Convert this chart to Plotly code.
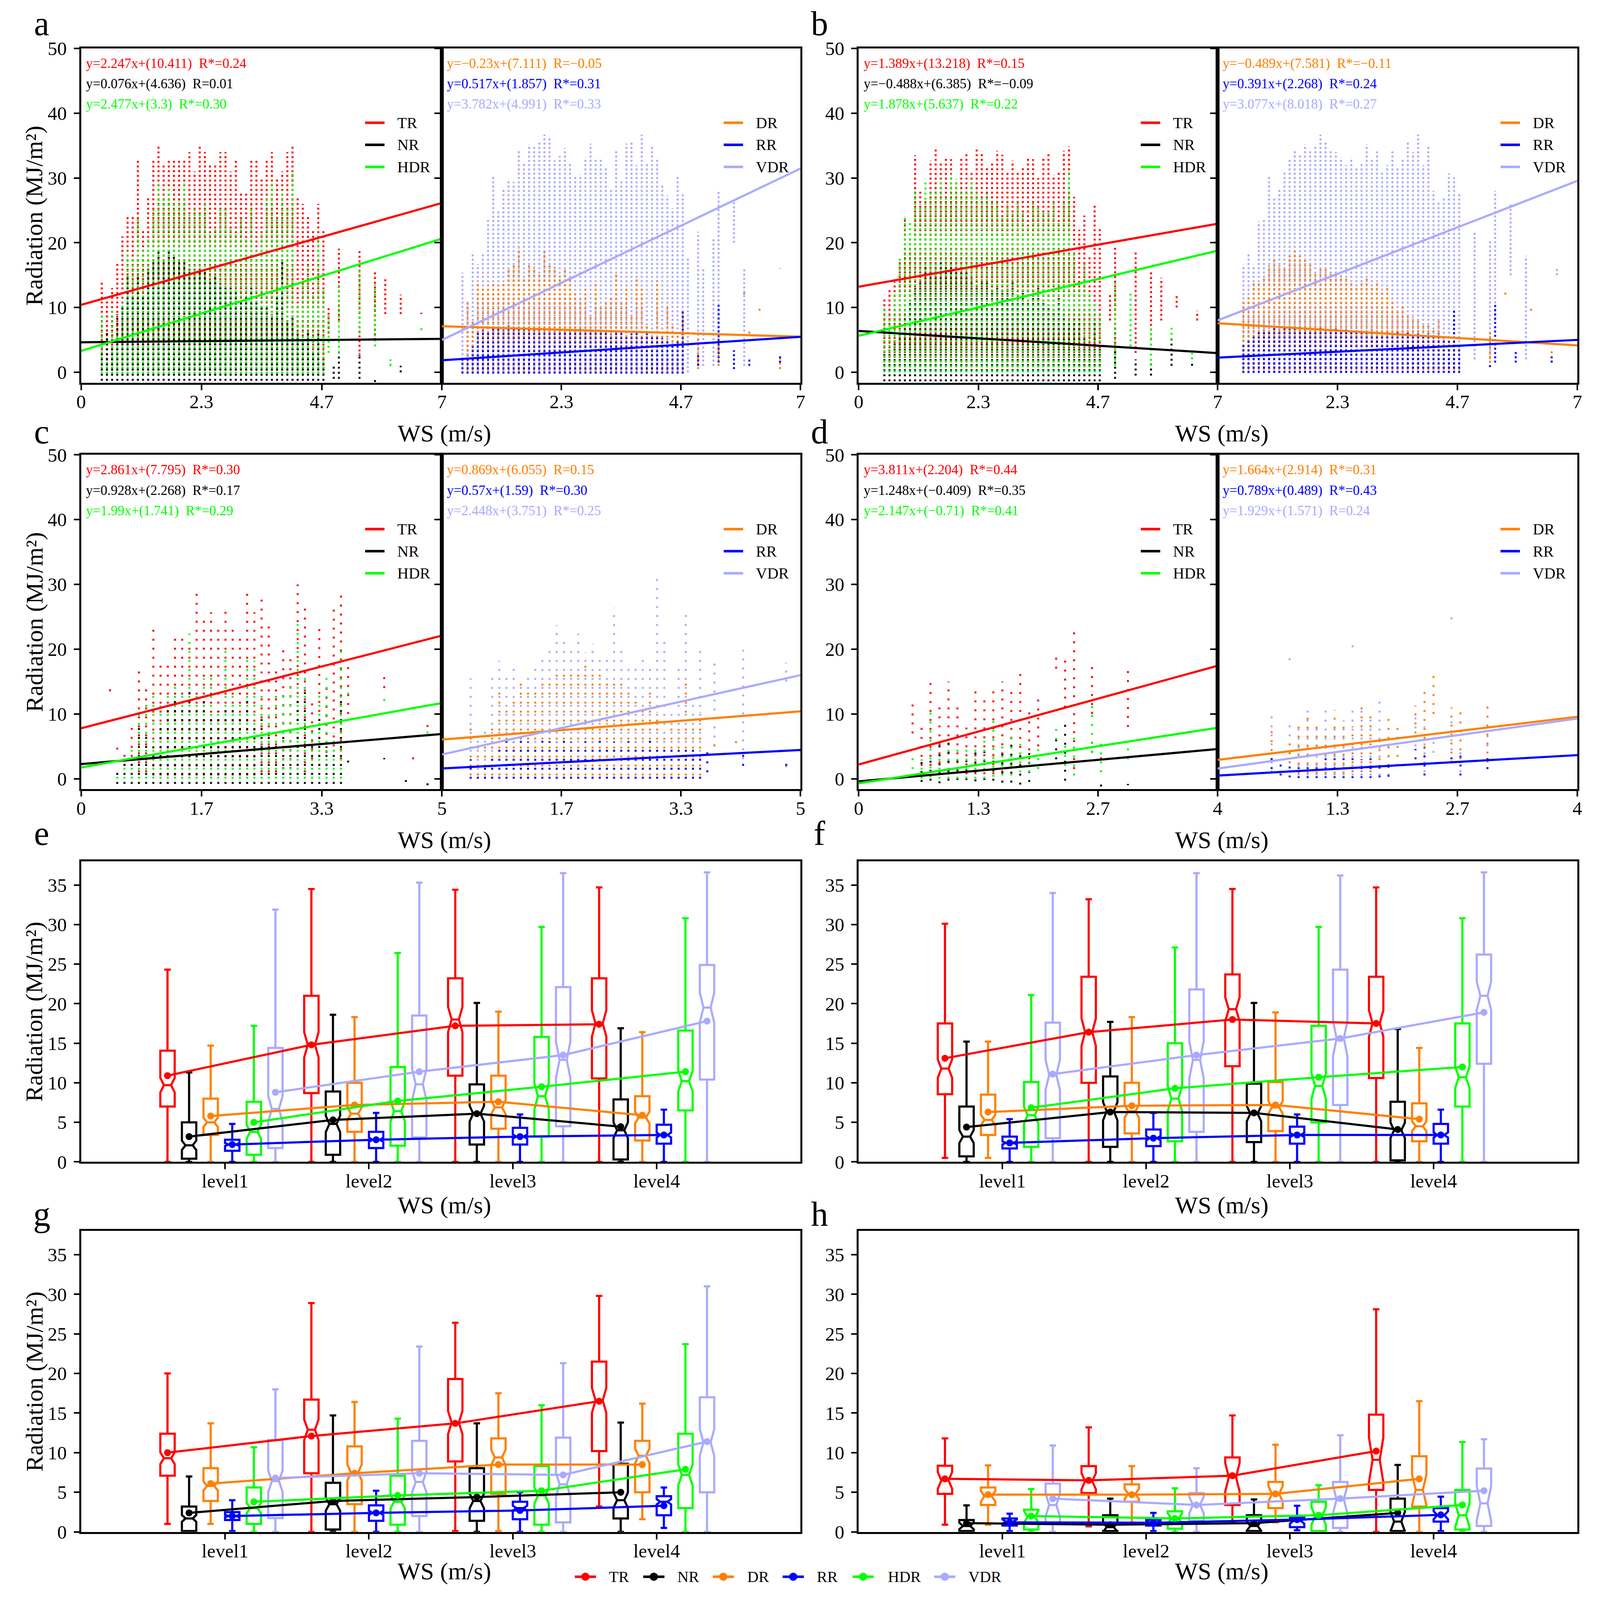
import plotly.graph_objects as go

FONT = "Liberation Serif, Times New Roman, serif"

# ---------------- scatter data (columns of points, WS step 0.1) ----------------
WS_A44 = [0.4, 0.5, 0.6, 0.7, 0.8, 0.9, 1.0, 1.1, 1.2, 1.3, 1.4, 1.5, 1.6, 1.7, 1.8,
          1.9, 2.0, 2.1, 2.2, 2.3, 2.4, 2.5, 2.6, 2.7, 2.8, 2.9, 3.0, 3.1, 3.2, 3.3,
          3.4, 3.5, 3.6, 3.7, 3.8, 3.9, 4.0, 4.1, 4.2, 4.3, 4.4, 4.5, 4.6, 4.7]
WS_A43 = WS_A44[1:]
WS_A45 = WS_A44 + [4.8]
WS_C33 = WS_A44[:33]
WS_C32 = WS_A44[1:33]

# panel a
A_TR = dict(x=WS_A44, lo=0.5,
            hi=[14, 11, 13, 17, 21, 24, 24, 33, 22, 27, 33, 35, 32, 33, 33, 33, 33, 34, 31, 35, 34, 32,
                32, 34, 34, 31, 33, 28, 28, 33, 33, 30, 33, 34, 30, 31, 34, 35, 27, 26, 24, 22, 26, 22],
            tx=[4.8, 5.0, 5.4, 5.7, 5.9, 6.2, 6.6], tlo=[6, 8, 2.5, 5, 9, 9, 9],
            thi=[10, 19.1, 18.8, 15.7, 14.4, 12.0, 9.2])
A_NR = dict(x=WS_A44, lo=-1.3,
            hi=[3, 6.6, 4, 9, 10, 14.7, 12, 15, 12, 16, 17, 18.8, 17, 19, 18, 17, 17, 16, 15, 16, 15.5, 14,
                15, 13.7, 13, 13, 12.5, 11, 12, 13, 11, 10, 10.3, 9, 12, 17, 8, 8.4, 6, 5, 6.4, 3, 6, 2],
            tx=[4.9, 5.0, 5.4, 5.7, 6.0, 6.2], tlo=[-1, -1, -1, -1.5, 1, 0], thi=[1, 3, 3, -1, 2, 1])
A_HDR = dict(x=WS_A44, lo=-0.2,
             hi=[8.8, 1.6, 9.6, 6.2, 10.9, 18.7, 17.6, 24, 18.8, 20.6, 25.1, 29.6, 27, 28.7, 26.5, 26.6,
                 29.2, 24.3, 25.5, 24.6, 26.5, 21.3, 22.1, 25.4, 25.1, 22.1, 21.3, 23.8, 20.9, 25.8, 18.8,
                 21.8, 26.8, 29.3, 24, 28.1, 25.3, 30.7, 10.6, 14, 16.5, 12, 21, 13],
             tx=[4.8, 5.0, 5.4, 5.7, 6.0, 6.6], tlo=[3, 3, 6, 4, 1, 6.5], thi=[9, 13.7, 15.7, 13.6, 2, 7.2])
A_DR = dict(x=WS_A43, lo=0.3,
            hi=[10.9, 8.2, 14, 13.2, 13.5, 13.9, 13.5, 13.7, 16, 16.8, 19.2, 14.8, 16.6, 16.3, 15.4, 19.1,
                16.5, 16.3, 14.9, 16.1, 14.6, 12.2, 11.3, 13.2, 8.9, 14, 10.1, 10.8, 11.7, 15.2, 11.1,
                13.4, 8.6, 14.8, 13.2, 7.5, 6, 14.2, 6, 10.3, 7.5, 6, 9.4],
            tx=[5.0, 5.4, 5.9, 6.0, 6.2, 6.6], tlo=[0.5, 1, 12, 6, 9.5, 0.5], thi=[5.4, 6, 12.5, 6.7, 9.9, 2.2])
A_VDR = dict(x=WS_A45, lo=0,
             hi=[15.4, 11, 18.6, 16.7, 18.4, 23.7, 30.4, 24.9, 28.4, 29.8, 29.4, 34.2, 32.5, 35.2, 34.8,
                 35.5, 36.7, 36.5, 32.7, 33.4, 34.6, 32.5, 30.4, 30.6, 33.2, 35.3, 33, 32.9, 31.7, 28.4,
                 34.2, 29.8, 35.3, 35.8, 32, 36.7, 32.5, 34.9, 33, 29, 27.3, 25.3, 30.3, 27.7, 17.7],
             tx=[5.0, 5.1, 5.3, 5.4, 5.7, 5.9, 6.6], tlo=[1, 1, 1, 1, 20, 1, 16],
             thi=[21.7, 16, 20.8, 28, 26.3, 16, 16.1])
A_RR = dict(x=WS_A44, lo=-0.2,
            hi=[2.0, 2.5, 4.0, 6.2, 6.6, 6.4, 6.8, 7.0, 6.6, 7.2, 6.9, 7.0, 6.8, 7.1, 6.7, 7.0, 6.9, 6.6,
                6.8, 6.4, 6.6, 6.5, 6.3, 6.7, 6.4, 6.6, 6.2, 6.1, 6.3, 5.9, 6.1, 6.2, 5.8, 6.0, 6.1, 5.7,
                6.0, 5.8, 5.5, 5.3, 5.2, 4.5, 5.0, 9.6],
            tx=[5.0, 5.4, 5.7, 6.0, 6.6], tlo=[1, 1.5, 0.5, 1, 1.5], thi=[3, 10.4, 3.4, 2, 2.5])

# panel b
B_TR = dict(x=WS_A43, lo=0.8,
            hi=[11.3, 12.8, 14, 17, 24, 21, 33.5, 28, 26.7, 32.7, 34.6, 32.3, 33.2, 32.9, 29.8, 33, 33.9,
                30.9, 34.6, 34, 31.8, 32.3, 34.2, 33.6, 31, 32.7, 30.9, 31.5, 33, 32.9, 30, 33.2, 34,
                30.5, 30.9, 34.2, 34.9, 27.1, 22, 24.2, 18, 26, 22.5],
            tx=[4.9, 5.0, 5.4, 5.7, 5.9, 6.2, 6.6], tlo=[8, 3, 3, 5, 8, 10, 8],
            thi=[12, 19.3, 18.9, 15.8, 14.6, 12, 9.5])
B_NR = dict(x=WS_A43, lo=-1.4,
            hi=[3.3, 3.5, 5, 6.4, 9, 11, 13, 14, 16.4, 15.5, 16, 17, 16.4, 16.8, 15.5, 16.4, 15.8, 14.5,
                13.5, 14.4, 13.8, 12.5, 13.1, 12.4, 12.9, 13.8, 12, 12.8, 11.2, 12.2, 13.3, 11, 10.5,
                9.6, 11.7, 9, 7.5, 8.2, 8.2, 5.5, 4, 7.7, 3.7],
            tx=[5.0, 5.4, 5.7, 6.1, 6.5], tlo=[-1, -0.5, -0.5, 1, 1], thi=[3.7, 2, 1.5, 5.5, 1.5])
B_HDR = dict(x=WS_A43, lo=0,
             hi=[9.7, 8.8, 12, 17.8, 24, 23.1, 28.3, 26, 29.8, 28.2, 28.3, 29.8, 27.4, 30.7, 29.8, 28.3,
                 28, 29.8, 28.3, 26.9, 27.6, 26.3, 26.2, 24, 26, 24.5, 26.2, 24.7, 22.4, 26.3, 25.8, 24.7,
                 24.9, 26.3, 23.4, 26.7, 30.9, 18.7, 14, 16.7, 12, 10.9, 9],
             tx=[5.0, 5.3, 5.7, 6.1, 6.5], tlo=[1, 4, 1, 5, 2], thi=[13.8, 12.2, 7.3, 7.3, 3])
B_DR = dict(x=WS_A43, lo=0.4,
            hi=[11, 12, 13.8, 14, 14.9, 16.5, 17.8, 16.5, 16, 18, 18.9, 18, 17.5, 16.8, 15.3, 16, 16.2,
                15.5, 15.3, 15, 14.9, 14, 13.5, 14.2, 14.6, 13.5, 13.8, 12.5, 13.3, 11, 9.5, 10.5, 9.1,
                8.5, 8, 7.5, 7.3, 6.5, 8, 5.5, 4.4, 5, 3.7],
            tx=[5.3, 5.6, 6.1, 6.5], tlo=[1.5, 12, 9.5, 1.5], thi=[6.2, 12.4, 10, 3.7])
B_VDR = dict(x=WS_A43, lo=0,
             hi=[16.6, 18.6, 16.6, 23.3, 23.6, 30.3, 27, 28.3, 31, 33, 34.3, 33.5, 35.2, 34.5, 35, 36.7,
                 35.6, 34.5, 34, 33.2, 32, 33.2, 31.5, 32.5, 35.2, 33, 34.1, 31, 32, 34.1, 31.5, 33, 35.8,
                 34, 36.7, 32, 34.9, 28, 26.2, 27, 30.7, 30.1, 27.6],
             tx=[5.0, 5.3, 5.4, 5.7, 6.0, 6.6], tlo=[2, 2, 8, 15, 2, 15], thi=[21.8, 20.5, 28, 26.2, 18, 16.2])
B_RR = dict(x=WS_A43, lo=-0.1,
            hi=[4.4, 5.0, 5.8, 6.2, 6.6, 6.4, 6.8, 6.6, 7.0, 6.7, 6.9, 6.6, 6.8, 6.5, 6.7, 6.9, 6.6, 6.4,
                6.7, 6.5, 6.6, 6.3, 6.5, 6.4, 6.2, 6.6, 6.3, 6.1, 6.4, 6.0, 6.2, 5.9, 6.1, 5.8, 6.0, 5.7,
                6.0, 5.6, 6.0, 5.3, 5.0, 9.7, 4.5],
            tx=[5.3, 5.4, 5.8, 6.5], tlo=[0.8, 1.5, 1.5, 1.5], thi=[1.3, 10.4, 3.3, 2.4])

# panel c
C_TR = dict(x=WS_C33,
            lo=[13.5, 4.5, 2, 2, 1, 1, 0.5, 0.5, 0.5, 0.5, 0.5, 0.5, 0.5, 0.5, 0.5, 0.5, 0.5, 0.5, 0.5,
                0.5, 0.5, 1, 1, 1, 1.5, 1.5, 2, 1, 3, 2, 4, 5, 3],
            hi=[14.1, 5, 4, 8, 17.3, 14.8, 23.7, 17.9, 18, 22.4, 22.4, 20.6, 29.1, 25.1, 25.7, 23.1, 26.6,
                24, 22.4, 29.1, 25.7, 28.2, 23.8, 17.3, 20.4, 18.8, 30, 26.7, 12, 23.3, 14, 26.6, 28.4],
            tx=[3.7, 4.2, 4.6, 4.8], tlo=[10, 14, 3, 8], thi=[18.4, 16.1, 4, 9.3])
C_NR = dict(x=WS_C32, lo=-0.8,
            hi=[1.7, 2.5, 3, 8.8, 7, 5, 8.8, 11.2, 13, 12, 14.4, 11.2, 13, 10.1, 10.4, 11.5, 11.2, 9.9,
                12.2, 8.4, 9.9, 7.4, 5.9, 7, 6, 12.6, 13.5, 6, 9.5, 5, 4, 13],
            tx=[3.7, 4.2, 4.5, 4.8], tlo=[2.5, 3, -0.5, -1], thi=[2.8, 3.2, -0.2, -0.7])
C_HDR = dict(x=WS_C32, lo=0,
             hi=[0.3, 2, 5.4, 11, 11.7, 12.8, 11.3, 13.5, 14.2, 13.2, 22.4, 13.2, 15.5, 15.9, 11, 19.7,
                 13, 12.1, 19.3, 18.2, 12.8, 9.9, 13, 13.5, 14.8, 24, 16, 8, 13.9, 16.4, 7, 20.8],
             tx=[3.7, 4.2, 4.8], tlo=[13, 12, 7], thi=[14.1, 12.4, 7.4])
C_DR = dict(x=WS_C33, lo=0.5,
            hi=[8.8, 5, 6, 8.4, 13.9, 11.2, 12.4, 15.1, 14.2, 14.2, 15.1, 15.1, 16.4, 16.8, 16.4, 16.6,
                17.9, 17, 16.2, 14.8, 15.5, 14.8, 14.2, 12.2, 10.6, 14.2, 10.3, 6.3, 8, 7.7, 15.3, 8, 10.3],
            tx=[3.8, 4.1, 4.8], tlo=[5, 5.5, 1.8], thi=[6.1, 6.1, 2.3])
C_VDR = dict(x=WS_C33, lo=0,
             hi=[15.5, 6, 8, 16.4, 18.2, 15.9, 17.3, 15, 16.4, 17.3, 18.4, 20.6, 23.7, 21.8, 20, 22.4,
                 19.5, 20.9, 19.3, 19.3, 26.4, 20.6, 17.3, 18, 18.4, 18, 31.3, 21.3, 10, 18, 25.7, 12, 20.6],
             tx=[3.8, 4.2, 4.8], tlo=[5, 3, 15], thi=[18.4, 19.9, 17.9])
C_RR = dict(x=WS_C33, lo=0,
            hi=[3, 1, 2.5, 4, 5.5, 5.8, 5.6, 5.9, 5.7, 5.5, 5.9, 5.8, 5.6, 5.9, 5.7, 5.5, 5.8, 5.6, 5.9,
                5.4, 5.7, 5.5, 5.8, 5.6, 5.5, 6.4, 5.4, 5.2, 5.4, 5.0, 4.5, 5.4, 3.5],
            tx=[3.7, 4.2, 4.8], tlo=[1, 2, 2], thi=[4.3, 3.7, 2.5])

# panel d
D_TR = dict(x=[0.6, 0.7, 0.8, 0.9, 1.0, 1.1, 1.2, 1.3, 1.4, 1.5, 1.6, 1.7, 1.8, 1.9, 2.0, 2.2, 2.3, 2.4, 2.6, 2.7, 3.0],
            lo=[7, 2, 2, 1, 1, 1, 0.7, 0.7, 0.7, 0.7, 1, 2, 2, 3, 5, 17, 11, 1.5, 10, 3, 8],
            hi=[11.5, 8.1, 15.7, 12.1, 15, 11.9, 7.9, 13.7, 12.6, 13.5, 15, 14.1, 17, 11.2, 13.3, 19.3,
                19.3, 23.3, 17.7, 4.3, 17],
            tx=[], tlo=[], thi=[])
D_NR = dict(x=[0.7, 0.8, 0.9, 1.0, 1.1, 1.2, 1.3, 1.4, 1.5, 1.6, 1.7, 1.8, 1.9, 2.2, 2.3, 2.6, 2.7, 3.0],
            lo=[-0.5, -0.3, -0.7, -0.3, -0.2, -0.2, -0.4, -0.2, -0.3, -0.6, -0.6, -0.9, -0.5, 3, -0.3, 4, -1.2, -1],
            hi=[2.6, 3, 5.5, 5.7, 3.9, 2.8, 5, 4.6, 3.9, 3.9, 5.5, 4.3, 4.3, 6.1, 8.8, 5.7, 0.1, -0.8],
            tx=[], tlo=[], thi=[])
D_HDR = dict(x=[0.6, 0.7, 0.8, 0.9, 1.0, 1.1, 1.2, 1.3, 1.4, 1.5, 1.6, 1.7, 1.8, 1.9, 2.0, 2.2, 2.3, 2.4, 2.6, 2.7, 3.0],
             lo=[1.5, 0, 0.2, 0, 0, 0, 0, 0, 0, 0.3, 0.5, 0.5, 1, 1, 1.5, 6, 2, 0.5, 4, 1, 3],
             hi=[3.6, 3, 10.4, 3.9, 5.5, 5.4, 5.2, 5, 6.8, 9.7, 6.1, 6.8, 5.4, 3.7, 5.4, 8.1, 5.4, 6.8,
                 11.5, 5.4, 5.7],
             tx=[], tlo=[], thi=[])
D_DR = dict(x=[0.6, 0.8, 0.9, 1.0, 1.1, 1.2, 1.3, 1.4, 1.5, 1.6, 1.7, 1.8, 1.9, 2.0, 2.2, 2.3, 2.4, 2.6, 2.7, 3.0],
            lo=[1.5, 1, 0.8, 0.8, 0.8, 0.8, 0.8, 0.8, 1, 1, 1, 1.5, 2, 2, 7, 2, 10, 2.5, 3, 2.5],
            hi=[8.1, 6.3, 8.3, 9.9, 8.6, 6.8, 10.6, 8.6, 8.1, 11.5, 9.9, 7, 9.9, 8.3, 11.3, 14.2, 16.8, 11,
                10.6, 11.7],
            tx=[], tlo=[], thi=[])
D_VDR = dict(x=[0.6, 0.8, 0.9, 1.0, 1.1, 1.2, 1.3, 1.4, 1.5, 1.6, 1.7, 1.8, 1.9, 2.2, 2.3, 2.4, 2.6, 2.7, 3.0],
             lo=[1, 1, 0.5, 0.5, 0.5, 0.5, 0.5, 0.5, 0.5, 0.5, 0.5, 0.5, 0.5, 5, 1, 4, 3, 1, 5],
             hi=[9.9, 9, 7.7, 11.2, 7.9, 11.3, 8.8, 9, 11, 11.2, 10.1, 11.9, 7.4, 10.1, 8.1, 6, 9, 5, 6.8],
             tx=[0.8, 1.5, 2.6], tlo=[18.3, 20.3, 24.6], thi=[18.6, 20.6, 24.9])
D_RR = dict(x=[0.6, 0.7, 0.8, 0.9, 1.0, 1.1, 1.2, 1.3, 1.4, 1.5, 1.6, 1.7, 1.8, 1.9, 2.2, 2.3, 2.6, 2.7, 3.0],
            lo=[1.5, 0.5, 0.2, 0.1, 0.1, 0.1, 0.1, 0.1, 0.1, 0.1, 0.1, 0.1, 0.2, 0.3, 3, 0.5, 3, 0.5, 1.5],
            hi=[3.4, 2.3, 2.1, 2.1, 2.4, 2.8, 3.4, 3.9, 3.2, 4.1, 3, 3.4, 2.4, 2.3, 4.6, 4.8, 4.3, 3.7, 3.9],
            tx=[], tlo=[], thi=[])

# regression equations shown in each sub-panel (order as listed in the panel)
FIT_A_L = dict(slope=[2.247, 0.076, 2.477], icpt=[10.411, 4.636, 3.3], r=[0.24, 0.01, 0.30], star=[1, 0, 1])
FIT_A_R = dict(slope=[-0.23, 0.517, 3.782], icpt=[7.111, 1.857, 4.991], r=[-0.05, 0.31, 0.33], star=[0, 1, 1])
FIT_B_L = dict(slope=[1.389, -0.488, 1.878], icpt=[13.218, 6.385, 5.637], r=[0.15, -0.09, 0.22], star=[1, 1, 1])
FIT_B_R = dict(slope=[-0.489, 0.391, 3.077], icpt=[7.581, 2.268, 8.018], r=[-0.11, 0.24, 0.27], star=[1, 1, 1])
FIT_C_L = dict(slope=[2.861, 0.928, 1.99], icpt=[7.795, 2.268, 1.741], r=[0.30, 0.17, 0.29], star=[1, 1, 1])
FIT_C_R = dict(slope=[0.869, 0.57, 2.448], icpt=[6.055, 1.59, 3.751], r=[0.15, 0.30, 0.25], star=[0, 1, 1])
FIT_D_L = dict(slope=[3.811, 1.248, 2.147], icpt=[2.204, -0.409, -0.71], r=[0.44, 0.35, 0.41], star=[1, 1, 1])
FIT_D_R = dict(slope=[1.664, 0.789, 1.929], icpt=[2.914, 0.489, 1.571], r=[0.31, 0.43, 0.24], star=[1, 1, 0])

TICKS_7 = ["0", "2.3", "4.7", "7"]
TICKS_5 = ["0", "1.7", "3.3", "5"]
TICKS_4 = ["0", "1.3", "2.7", "4"]

# ---------------- box plot data (level1..level4) ----------------
LEVELS = [1, 2, 3, 4]
LEVEL_LABELS = ["level1", "level2", "level3", "level4"]

E_LO = dict(TR=[0, 0, 0, 0], NR=[0, 0, 0, 0], DR=[0, 0, 0, 0], RR=[0, 0, 0, 0], HDR=[0, 0, 0, 0], VDR=[0, 0, 0, 0])
E_Q1 = dict(TR=[7.0, 8.7, 10.9, 10.55], NR=[0.4, 0.9, 2.2, 0.3], DR=[3.4, 3.8, 4.2, 2.7],
            RR=[1.4, 1.75, 2.2, 2.3], HDR=[0.9, 2.05, 3.2, 6.5], VDR=[1.75, 3.1, 4.5, 10.4])
E_MED = dict(TR=[9.7, 14.8, 18.0, 17.5], NR=[2.1, 4.8, 6.1, 4.0], DR=[5.0, 6.1, 6.9, 5.6],
             RR=[2.2, 2.8, 3.2, 3.4], HDR=[3.8, 6.4, 8.3, 10.2], VDR=[6.7, 9.8, 12.9, 19.5])
E_Q3 = dict(TR=[14.06, 21.0, 23.2, 23.2], NR=[5.0, 8.9, 9.8, 7.9], DR=[8.0, 10.0, 10.9, 8.3],
            RR=[2.8, 3.8, 4.3, 4.7], HDR=[7.6, 12.0, 15.8, 16.6], VDR=[14.4, 18.5, 22.1, 24.9])
E_HI = dict(TR=[24.3, 34.5, 34.4, 34.7], NR=[11.3, 18.6, 20.1, 16.9], DR=[14.7, 18.3, 19.0, 16.4],
            RR=[4.8, 6.2, 6.0, 6.6], HDR=[17.2, 26.4, 29.7, 30.8], VDR=[31.9, 35.3, 36.5, 36.6])
E_MEAN = dict(TR=[10.9, 14.8, 17.2, 17.4], NR=[3.2, 5.3, 6.1, 4.45], DR=[5.8, 7.2, 7.6, 5.9],
              RR=[2.2, 2.8, 3.2, 3.4], HDR=[5.0, 7.7, 9.5, 11.4], VDR=[8.8, 11.4, 13.5, 17.8])

F_LO = dict(TR=[0.5, 0, 0, 0], NR=[0, 0, 0, 0], DR=[0.5, 0, 0, 0], RR=[0, 0, 0, 0], HDR=[0, 0, 0, 0], VDR=[0, 0, 0, 0])
F_Q1 = dict(TR=[8.55, 10.0, 12.1, 10.6], NR=[0.7, 1.9, 2.5, 0.2], DR=[3.4, 3.6, 3.9, 2.6],
            RR=[1.7, 2.0, 2.3, 2.3], HDR=[1.9, 2.6, 5.0, 7.0], VDR=[3.0, 3.8, 7.2, 12.4])
F_MED = dict(TR=[11.8, 16.4, 19.3, 17.5], NR=[3.2, 6.4, 6.1, 4.0], DR=[5.3, 6.4, 6.9, 4.5],
             RR=[2.4, 3.0, 3.4, 3.4], HDR=[5.9, 8.0, 9.6, 10.7], VDR=[11.0, 12.9, 15.6, 21.0])
F_Q3 = dict(TR=[17.5, 23.4, 23.7, 23.4], NR=[7.0, 10.8, 9.9, 7.6], DR=[8.5, 10.0, 10.1, 7.4],
            RR=[3.2, 4.1, 4.45, 4.8], HDR=[10.1, 15.0, 17.2, 17.5], VDR=[17.6, 21.8, 24.3, 26.2])
F_HI = dict(TR=[30.1, 33.2, 34.5, 34.7], NR=[15.2, 17.7, 20.1, 16.8], DR=[15.2, 18.3, 18.9, 14.4],
            RR=[5.4, 6.2, 6.0, 6.6], HDR=[21.1, 27.1, 29.7, 30.8], VDR=[34.0, 36.5, 36.2, 36.6])
F_MEAN = dict(TR=[13.1, 16.4, 18.0, 17.5], NR=[4.4, 6.3, 6.2, 4.1], DR=[6.3, 7.1, 7.2, 5.4],
              RR=[2.4, 3.0, 3.4, 3.4], HDR=[6.85, 9.3, 10.7, 12.0], VDR=[11.1, 13.5, 15.6, 18.9])

G_LO = dict(TR=[1.0, 0, 0.1, 3.2], NR=[0, 0, 0, 0], DR=[1.0, 0, 0.1, 1.6], RR=[0.1, 0, 0, 0.5], HDR=[0, 0, 0, 0], VDR=[0, 0, 0, 0])
G_Q1 = dict(TR=[7.1, 7.4, 8.9, 10.2], NR=[0.1, 0.3, 1.4, 1.7], DR=[3.9, 3.5, 4.8, 5.0],
            RR=[1.5, 1.4, 1.6, 2.1], HDR=[1.0, 0.9, 0.9, 3.0], VDR=[1.75, 2.0, 1.2, 5.0])
G_MED = dict(TR=[9.3, 12.9, 13.8, 16.6], NR=[1.7, 3.5, 3.9, 4.0], DR=[5.8, 7.5, 9.4, 9.6],
             RR=[2.0, 2.4, 3.0, 3.8], HDR=[3.0, 3.8, 4.6, 7.2], VDR=[6.4, 6.3, 6.0, 11.3])
G_Q3 = dict(TR=[12.4, 16.7, 19.3, 21.5], NR=[3.2, 6.2, 8.05, 8.6], DR=[8.05, 10.8, 11.8, 11.5],
            RR=[2.5, 3.35, 3.8, 4.5], HDR=[5.6, 7.1, 8.3, 12.4], VDR=[11.6, 11.5, 11.9, 17.0])
G_HI = dict(TR=[20.0, 28.9, 26.4, 29.8], NR=[7.0, 14.7, 13.7, 13.8], DR=[13.7, 16.4, 17.5, 16.2],
            RR=[4.0, 5.2, 5.0, 5.6], HDR=[10.7, 14.3, 16.0, 23.7], VDR=[18.0, 23.4, 21.3, 31.0])
G_MEAN = dict(TR=[10.0, 12.1, 13.7, 16.5], NR=[2.4, 3.9, 4.4, 5.0], DR=[6.1, 7.4, 8.5, 8.5],
              RR=[2.0, 2.4, 2.7, 3.3], HDR=[3.8, 4.6, 5.2, 7.9], VDR=[6.8, 7.4, 7.2, 11.4])

H_LO = dict(TR=[0.9, 0.7, 1.15, 0], NR=[0, 0, 0, 0], DR=[0.9, 1.15, 1.2, 0], RR=[0.1, 0.1, 0.2, 0.1], HDR=[0, 0, 0, 0], VDR=[0, 0, 0, 0])
H_Q1 = dict(TR=[4.8, 4.9, 3.4, 5.3], NR=[0.1, 0.1, 0.1, 0.1], DR=[3.4, 3.8, 3.0, 3.2],
            RR=[0.8, 0.8, 0.6, 1.3], HDR=[0.3, 0.4, 0.1, 0.3], VDR=[1.15, 1.4, 0.5, 0.75])
H_MED = dict(TR=[6.5, 6.4, 6.9, 9.1], NR=[0.75, 0.6, 0.75, 1.3], DR=[4.5, 4.8, 4.8, 5.3],
             RR=[1.3, 1.2, 1.4, 2.1], HDR=[1.9, 1.7, 2.0, 2.1], VDR=[3.4, 3.4, 4.1, 3.6])
H_Q3 = dict(TR=[8.35, 8.3, 9.4, 14.8], NR=[1.5, 2.1, 2.1, 4.2], DR=[5.6, 6.0, 6.3, 9.55],
            RR=[1.7, 1.55, 1.8, 3.0], HDR=[2.8, 2.6, 3.8, 5.3], VDR=[6.1, 4.9, 6.3, 8.0])
H_HI = dict(TR=[11.8, 13.2, 14.7, 28.1], NR=[3.35, 4.2, 4.1, 8.45], DR=[8.4, 8.3, 11.0, 16.5],
            RR=[2.3, 2.4, 3.3, 4.45], HDR=[5.4, 5.5, 5.9, 11.35], VDR=[10.9, 8.05, 12.2, 11.7])
H_MEAN = dict(TR=[6.7, 6.5, 7.1, 10.2], NR=[1.1, 0.9, 1.1, 2.4], DR=[4.7, 4.7, 4.8, 6.7],
              RR=[1.2, 1.15, 1.55, 2.15], HDR=[2.0, 1.7, 2.1, 3.4], VDR=[4.2, 3.4, 4.2, 5.2])

# ---------------- page geometry ----------------
# positions are measured on the 4347x4546 original; the figure is autosized to the
# browser viewport, so they are turned into paper fractions (8px body margin)
REF_W, REF_H = 4347, 4546
VIEW, BODY = 4096, 8
Y_SHIFT, Y_SCALE = 20.0, 0.991  # small vertical correction seen on earlier renders

COLORS = dict(TR="#ff0000", NR="#000000", DR="#ff8000", RR="#0000ff", HDR="#00ff00", VDR="#aaaaff")
BOX_SERIES = ["TR", "NR", "DR", "RR", "HDR", "VDR"]
BOX_OFFSET = dict(TR=-0.4, NR=-0.25, DR=-0.1, RR=0.05, HDR=0.2, VDR=0.35)
DENSE_DASH = dict(TR="5px,7px", NR="5px,8px", HDR="5px,8px", VDR="5px,6px", DR="5px,7px", RR="5px,6px")
SPARSE_DASH = "5px,18px"

ROWS_PX = [(128, 1082), (1288, 2242), (2448, 3306), (3503, 4362)]
COLS_PX = [(209, 1195, 2175), (2334, 3315, 4298)]


def px_x(px):
    return (px / REF_W * VIEW - BODY) / (VIEW - 2 * BODY)


def px_y(py):
    py = (py - Y_SHIFT) / Y_SCALE
    return 1 - (py / REF_H * VIEW - BODY) / (VIEW - 2 * BODY)


def ax_key(kind, i):
    return f"{kind}axis" if i == 1 else f"{kind}axis{i}"


def ax_ref(kind, i):
    return kind if i == 1 else f"{kind}{i}"


def column_path(s):
    lo = s["lo"] if isinstance(s["lo"], list) else [s["lo"]] * len(s["x"])
    xs = list(s["x"]) + list(s["tx"])
    los = lo + list(s["tlo"])
    his = list(s["hi"]) + list(s["thi"])
    px, py = [], []
    for x, a, b in zip(xs, los, his):
        px += [x, x, None]
        py += [a, b, None]
    return px, py


def fmt(v):
    return str(v).replace("-", "\u2212")


SCATTER_PANELS = [
    dict(ax=1, col=0, side=0, row=0, xmax=7, ticks=TICKS_7, names=["TR", "NR", "HDR"], draw=["TR", "NR", "HDR"],
         data=dict(TR=A_TR, NR=A_NR, HDR=A_HDR), fit=FIT_A_L, dense=True),
    dict(ax=2, col=0, side=1, row=0, xmax=7, ticks=TICKS_7, names=["DR", "RR", "VDR"], draw=["VDR", "DR", "RR"],
         data=dict(DR=A_DR, RR=A_RR, VDR=A_VDR), fit=FIT_A_R, dense=True),
    dict(ax=3, col=1, side=0, row=0, xmax=7, ticks=TICKS_7, names=["TR", "NR", "HDR"], draw=["TR", "NR", "HDR"],
         data=dict(TR=B_TR, NR=B_NR, HDR=B_HDR), fit=FIT_B_L, dense=True),
    dict(ax=4, col=1, side=1, row=0, xmax=7, ticks=TICKS_7, names=["DR", "RR", "VDR"], draw=["VDR", "DR", "RR"],
         data=dict(DR=B_DR, RR=B_RR, VDR=B_VDR), fit=FIT_B_R, dense=True),
    dict(ax=5, col=0, side=0, row=1, xmax=5, ticks=TICKS_5, names=["TR", "NR", "HDR"], draw=["TR", "NR", "HDR"],
         data=dict(TR=C_TR, NR=C_NR, HDR=C_HDR), fit=FIT_C_L, dense=False),
    dict(ax=6, col=0, side=1, row=1, xmax=5, ticks=TICKS_5, names=["DR", "RR", "VDR"], draw=["VDR", "DR", "RR"],
         data=dict(DR=C_DR, RR=C_RR, VDR=C_VDR), fit=FIT_C_R, dense=False),
    dict(ax=7, col=1, side=0, row=1, xmax=4, ticks=TICKS_4, names=["TR", "NR", "HDR"], draw=["TR", "NR", "HDR"],
         data=dict(TR=D_TR, NR=D_NR, HDR=D_HDR), fit=FIT_D_L, dense=False),
    dict(ax=8, col=1, side=1, row=1, xmax=4, ticks=TICKS_4, names=["DR", "RR", "VDR"], draw=["VDR", "DR", "RR"],
         data=dict(DR=D_DR, RR=D_RR, VDR=D_VDR), fit=FIT_D_R, dense=False),
]

BOX_PANELS = [
    dict(ax=9, col=0, row=2, lo=E_LO, q1=E_Q1, med=E_MED, q3=E_Q3, hi=E_HI, mean=E_MEAN, notch=0.13),
    dict(ax=10, col=1, row=2, lo=F_LO, q1=F_Q1, med=F_MED, q3=F_Q3, hi=F_HI, mean=F_MEAN, notch=0.13),
    dict(ax=11, col=0, row=3, lo=G_LO, q1=G_Q1, med=G_MED, q3=G_Q3, hi=G_HI, mean=G_MEAN, notch=0.14),
    dict(ax=12, col=1, row=3, lo=H_LO, q1=H_Q1, med=H_MED, q3=H_Q3, hi=H_HI, mean=H_MEAN, notch=0.3),
]

TICK_FONT = dict(family=FONT, size=49, color="black")
AXIS_BASE = dict(showline=True, linecolor="black", linewidth=5, mirror=True, ticks="outside", ticklen=14,
                 tickwidth=4, tickcolor="black", showgrid=False, zeroline=False, tickfont=TICK_FONT)
X_EXTRA = dict(ticklabelstandoff=-12)
Y_EXTRA = dict(ticklabelstandoff=8)

fig = go.Figure()
layout = dict(autosize=True, margin=dict(l=0, r=0, t=0, b=0), paper_bgcolor="white",
              plot_bgcolor="white", showlegend=False, hovermode=False,
              font=dict(family=FONT, size=49, color="black"))
annotations = []
shapes = []

# ---------------- scatter panels ----------------
for p in SCATTER_PANELS:
    i = p["ax"]
    xr, yr = ax_ref("x", i), ax_ref("y", i)
    cols = COLS_PX[p["col"]]
    left_px, right_px = cols[p["side"]], cols[p["side"] + 1]
    top_px, bot_px = ROWS_PX[p["row"]]
    xmax = p["xmax"]
    tv = [0, xmax / 3, 2 * xmax / 3, xmax]
    tt = list(p["ticks"])
    if p["side"] == 1:
        tv, tt = tv[1:], tt[1:]
    layout[ax_key("x", i)] = dict(AXIS_BASE, **X_EXTRA, domain=[px_x(left_px), px_x(right_px)], anchor=yr,
                                  range=[0, xmax], tickvals=tv, ticktext=tt)
    layout[ax_key("y", i)] = dict(AXIS_BASE, **Y_EXTRA, domain=[px_y(bot_px), px_y(top_px)], anchor=xr,
                                  range=[-1.6, 50], tickvals=[0, 10, 20, 30, 40, 50],
                                  showticklabels=(p["side"] == 0))

    for name in p["draw"]:
        px, py = column_path(p["data"][name])
        dash = DENSE_DASH[name] if p["dense"] else SPARSE_DASH
        fig.add_trace(go.Scatter(x=px, y=py, mode="lines", xaxis=xr, yaxis=yr, hoverinfo="skip",
                                 line=dict(color=COLORS[name], width=5, dash=dash)))

    f = p["fit"]
    for k, name in enumerate(p["names"]):
        xs = [0, xmax]
        ys = [f["slope"][k] * x + f["icpt"][k] for x in xs]
        fig.add_trace(go.Scatter(x=xs, y=ys, mode="lines", xaxis=xr, yaxis=yr, hoverinfo="skip",
                                 line=dict(color=COLORS[name], width=5.5)))
        rlab = ("R*=" if f["star"][k] else "R=") + fmt(f"{f['r'][k]:.2f}")
        eq = f"y={fmt(f['slope'][k])}x+({fmt(f['icpt'][k])})\u00a0\u00a0{rlab}"
        annotations.append(dict(x=px_x(left_px + 11), y=px_y(top_px + 43 + 58 * k), xref="paper", yref="paper",
                                xanchor="left", yanchor="middle", showarrow=False, text=eq,
                                font=dict(family=FONT, size=35, color=COLORS[name])))
        ly = px_y(top_px + 212 + 63 * k)
        shapes.append(dict(type="line", xref="paper", yref="paper", x0=px_x(right_px - 210),
                           x1=px_x(right_px - 157), y0=ly, y1=ly, line=dict(color=COLORS[name], width=6.5)))
        annotations.append(dict(x=px_x(right_px - 124), y=ly, xref="paper", yref="paper", xanchor="left",
                                yanchor="middle", showarrow=False, text=name,
                                font=dict(family=FONT, size=40, color="black")))

# ---------------- box panels ----------------
for p in BOX_PANELS:
    i = p["ax"]
    xr, yr = ax_ref("x", i), ax_ref("y", i)
    left_px, _, right_px = COLS_PX[p["col"]]
    top_px, bot_px = ROWS_PX[p["row"]]
    layout[ax_key("x", i)] = dict(AXIS_BASE, **X_EXTRA, domain=[px_x(left_px), px_x(right_px)], anchor=yr,
                                  range=[0, 5], tickvals=LEVELS, ticktext=LEVEL_LABELS)
    layout[ax_key("y", i)] = dict(AXIS_BASE, **Y_EXTRA, domain=[px_y(bot_px), px_y(top_px)], anchor=xr,
                                  range=[0, 38], tickvals=[0, 5, 10, 15, 20, 25, 30, 35])
    for name in BOX_SERIES:
        pos = [lv + BOX_OFFSET[name] for lv in LEVELS]
        q1, q3 = p["q1"][name], p["q3"][name]
        fig.add_trace(go.Box(x=pos, q1=q1, median=p["med"][name], q3=q3, lowerfence=p["lo"][name],
                             upperfence=p["hi"][name], notched=True,
                             notchspan=[p["notch"] * (b - a) for a, b in zip(q1, q3)], notchwidth=0.25,
                             width=0.1, whiskerwidth=0.45, boxpoints=False, fillcolor="rgba(0,0,0,0)",
                             line=dict(color=COLORS[name], width=5.5), xaxis=xr, yaxis=yr, hoverinfo="skip"))
    for name in BOX_SERIES:
        pos = [lv + BOX_OFFSET[name] for lv in LEVELS]
        fig.add_trace(go.Scatter(x=pos, y=p["mean"][name], mode="lines+markers", xaxis=xr, yaxis=yr,
                                 hoverinfo="skip", line=dict(color=COLORS[name], width=5.5),
                                 marker=dict(color=COLORS[name], size=18)))

# ---------------- titles, panel letters ----------------
TITLE_FONT = dict(family=FONT, size=62, color="black")
for r, (top_px, bot_px) in enumerate(ROWS_PX):
    annotations.append(dict(x=px_x(81), y=px_y((top_px + bot_px) / 2), xref="paper", yref="paper",
                            text="Radiation (MJ/m\u00b2)", textangle=-90, showarrow=False,
                            xanchor="center", yanchor="middle", font=TITLE_FONT))
WS_Y = [1227, 2387, 3430, 4475]
for r in range(4):
    for c, cols in enumerate(COLS_PX):
        annotations.append(dict(x=px_x((cols[0] + cols[2]) / 2 + 10), y=px_y(WS_Y[r]), xref="paper",
                                yref="paper", text="WS (m/s)", showarrow=False, xanchor="center",
                                yanchor="middle", font=TITLE_FONT))

LETTERS = ["a", "b", "c", "d", "e", "f", "g", "h"]
LETTER_Y = [57, 1222, 2368, 3456]
for k, letter in enumerate(LETTERS):
    annotations.append(dict(x=px_x(101 if k % 2 == 0 else 2227), y=px_y(LETTER_Y[k // 2]), xref="paper",
                            yref="paper", text=letter, showarrow=False, xanchor="center", yanchor="middle",
                            font=dict(family=FONT, size=88, color="black")))

# ---------------- bottom legend ----------------
LEG_SYM_X = [1587, 1774, 1964, 2155, 2346, 2569]
LEG_LABEL_X = [1649, 1836, 2027, 2217, 2412, 2632]
LEG_Y = 4490
for name, sx, lx in zip(BOX_SERIES, LEG_SYM_X, LEG_LABEL_X):
    shapes.append(dict(type="line", xref="paper", yref="paper", x0=px_x(sx - 29), x1=px_x(sx + 29),
                       y0=px_y(LEG_Y), y1=px_y(LEG_Y), line=dict(color=COLORS[name], width=6.5)))
    shapes.append(dict(type="circle", xref="paper", yref="paper", x0=px_x(sx - 11), x1=px_x(sx + 11),
                       y0=px_y(LEG_Y + 11), y1=px_y(LEG_Y - 11), fillcolor=COLORS[name],
                       line=dict(color=COLORS[name], width=1)))
    annotations.append(dict(x=px_x(lx), y=px_y(LEG_Y), xref="paper", yref="paper", xanchor="left",
                            yanchor="middle", showarrow=False, text=name,
                            font=dict(family=FONT, size=40, color="black")))

layout["annotations"] = annotations
layout["shapes"] = shapes
fig.update_layout(**layout)
fig.write_html("out.html")
